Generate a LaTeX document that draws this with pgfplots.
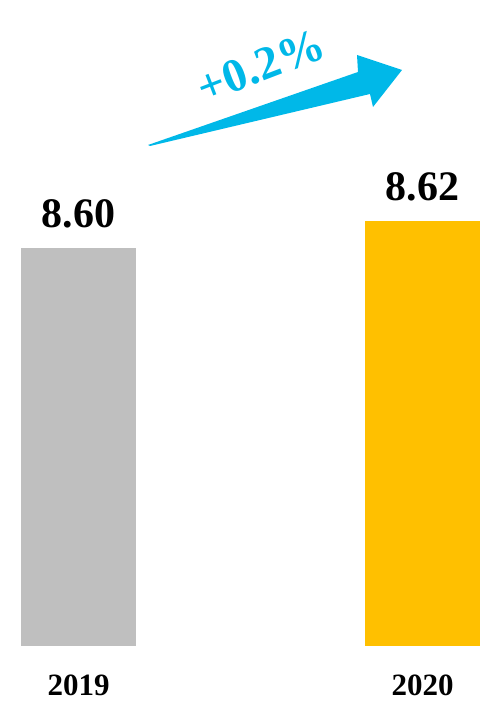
\documentclass[border=0pt]{standalone}
\usepackage{pgfplots}
\pgfplotsset{compat=1.18}
\usepackage{fontspec}
\setmainfont{Liberation Serif}
\definecolor{grayBar}{HTML}{BFBFBF}
\definecolor{goldBar}{HTML}{FFC000}
\definecolor{arrowCyan}{HTML}{00B8E8}
\begin{document}
\begin{tikzpicture}
\useasboundingbox (0,0) rectangle (488pt,707pt);
\begin{axis}[
    at={(0pt,61.3pt)}, anchor=south west,
    scale only axis,
    width=488pt, height=645.7pt,
    ybar, bar width=115pt,
    xmin=-0.2282, xmax=1.1904,
    ymin=8.30541, ymax=8.78371,
    xtick={0,1}, xticklabels={2019,2020},
    ytick=\empty,
    major tick length=0pt,
    axis line style={draw=none},
    xticklabel style={font=\bfseries\fontsize{31}{36}\selectfont, anchor=base, yshift=-49.5pt, inner sep=0pt},
    nodes near coords={\pgfmathprintnumber[fixed,precision=2,zerofill,assume math mode=true]{\pgfplotspointmeta}},
    every node near coord/.append style={font=\bfseries\fontsize{42}{50}\selectfont, anchor=south, inner sep=0pt, yshift=20pt, text=black},
]
\addplot[fill=grayBar, draw=none, bar shift=0pt] coordinates {(0,8.60)};
\addplot[fill=goldBar, draw=none, bar shift=0pt] coordinates {(1,8.62)};
\end{axis}
% growth arrow
\fill[arrowCyan] (148pt,562pt) -- (358pt,635pt) -- (357pt,652pt) -- (402pt,637pt) -- (373pt,600pt) -- (370pt,613pt) -- (150pt,561pt) -- cycle;
\node[text=arrowCyan, font=\bfseries\fontsize{47}{54}\selectfont, rotate=21, inner sep=0pt] at (261pt,641pt) {+0.2\%};
\end{tikzpicture}
\end{document}
